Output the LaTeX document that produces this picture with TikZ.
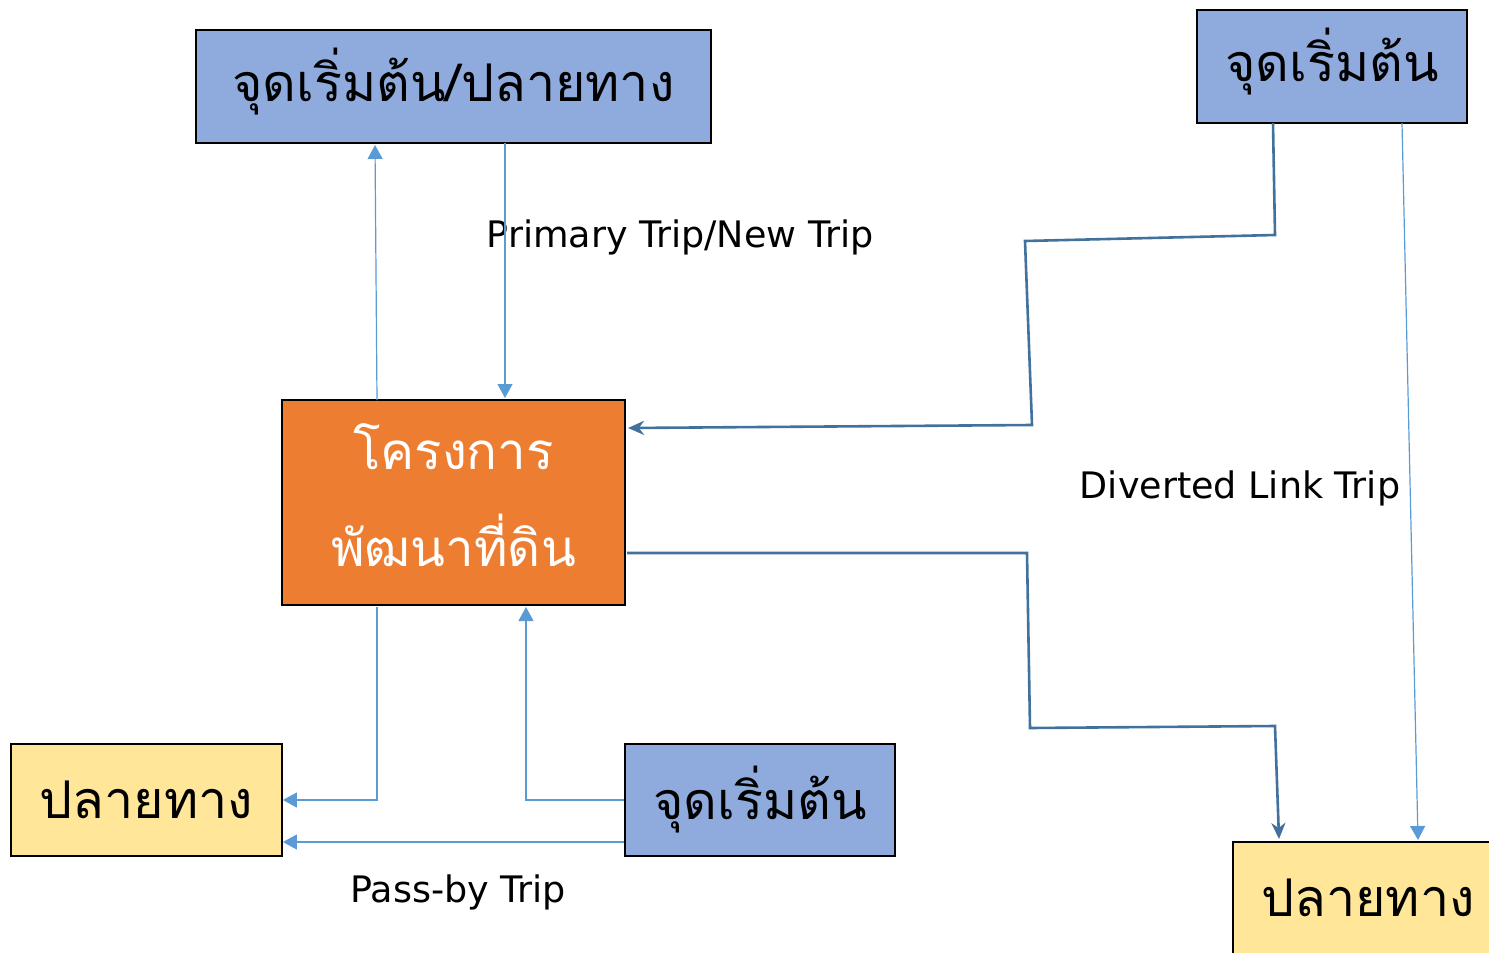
\documentclass[tikz,border=0pt]{standalone}
\usepackage{fontspec}
\setmainfont{DejaVu Sans}
\newfontfamily\thaifont[Script=Thai]{Loma}
\usetikzlibrary{arrows.meta}
\definecolor{boxblue}{HTML}{8FAADC}
\definecolor{boxorange}{HTML}{ED7D31}
\definecolor{boxyellow}{HTML}{FFE699}
\definecolor{lightline}{HTML}{5B9BD5}
\definecolor{darkline}{HTML}{41719C}
\tikzset{
  basebox/.style={draw=black, line width=1.8pt, inner sep=0pt, align=center, font=\thaifont\fontsize{52}{60}\selectfont},
  bluebox/.style={basebox, fill=boxblue},
  yellowbox/.style={basebox, fill=boxyellow},
  orangebox/.style={basebox, fill=boxorange, text=white},
  whitetext/.style={text=white, inner sep=0pt, font=\thaifont\fontsize{51}{60}\selectfont},
  lightarrow/.style={draw=lightline, line width=1.2pt, -{Triangle[length=14pt,width=15pt]}},
  darkarrow/.style={draw=darkline, line width=2.6pt, -{Stealth[length=16pt,width=14pt,inset=5pt]}},
  tlabel/.style={font=\fontsize{36.5}{44}\selectfont, text=black}
}
\begin{document}
\begin{tikzpicture}[x=1pt,y=-1pt]
\useasboundingbox (0,0) rectangle (1489,953);
% nodes
\node[bluebox, minimum width=515pt, minimum height=113pt] (A) at (453.5,86.5) {};
\node[font=\thaifont\fontsize{52}{60}\selectfont, inner sep=0pt] (At) at (453.5,82) {จุดเริ่มต้น/ปลายทาง};
\node[bluebox, minimum width=270pt, minimum height=113pt] (B) at (1332,66.5) {};
\node[font=\thaifont\fontsize{52}{60}\selectfont, inner sep=0pt] (Bt) at (1332,62) {จุดเริ่มต้น};
\node[orangebox, minimum width=343pt, minimum height=205pt] (C) at (453.5,502.5) {};
\node[whitetext] (C1) at (453.5,447) {โครงการ};
\node[whitetext] (C2) at (453.5,540) {พัฒนาที่ดิน};
\node[yellowbox, minimum width=271pt, minimum height=112pt] (D) at (146.5,800) {ปลายทาง};
\node[bluebox, minimum width=270pt, minimum height=112pt] (E) at (760,800) {จุดเริ่มต้น};
\node[yellowbox, minimum width=270pt, minimum height=112pt] (F) at (1368,898) {ปลายทาง};
% labels
\node[tlabel] (L1) at (680,237) {Primary Trip/New Trip};
\node[tlabel] (L2) at (1240,488) {Diverted Link Trip};
\node[tlabel] (L3) at (458,892) {Pass-by Trip};
% bend coordinates
\coordinate (p1) at (1273,123);
\coordinate (p2) at (1275,235);
\coordinate (p3) at (1025,241);
\coordinate (p4) at (1032,425);
\coordinate (p5) at (628,428);
\coordinate (q1) at (627,553);
\coordinate (q2) at (1027,553);
\coordinate (q3) at (1030,728);
\coordinate (q4) at (1275,726);
\coordinate (q5) at (1279,839);
% light connectors
\draw[lightarrow] (377,400) -- (375,145);
\draw[lightarrow] (505,143) -- (505,398);
\draw[lightarrow] (1402,123) -- (1418,840);
\draw[lightarrow] (377,607) -- (377,800) -- (D.east |- 0,800);
\draw[lightarrow] (E.west) -- (526,800) -- (526,607);
\draw[lightarrow] (E.west |- 0,842) -- (D.east |- 0,842);
% dark connectors
\draw[darkarrow] (p1) -- (p2) -- (p3) -- (p4) -- (p5);
\draw[darkarrow] (q1) -- (q2) -- (q3) -- (q4) -- (q5);
\end{tikzpicture}
\end{document}
